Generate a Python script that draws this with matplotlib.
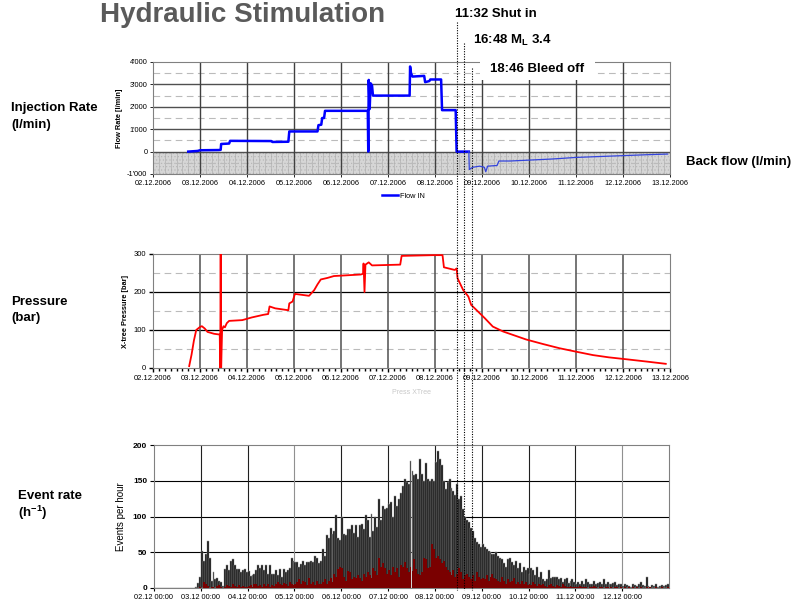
import numpy as np
import matplotlib
matplotlib.use('Agg')
import matplotlib.pyplot as plt
from matplotlib.lines import Line2D
from matplotlib.patches import Rectangle

plt.rcParams['font.family'] = ['Liberation Sans', 'DejaVu Sans']
plt.rcParams['mathtext.fontset'] = 'custom'
plt.rcParams['mathtext.rm'] = 'Liberation Sans'
plt.rcParams['mathtext.bf'] = 'Liberation Sans:bold'
plt.rcParams['hatch.linewidth'] = 0.4

W, H = 792, 605

def fx(x):
    return x / W

def fy(y):
    return 1 - y / H

# ---- data (time in days since 02.12.2006 00:00) ----
day_names = ['02.12', '03.12', '04.12', '05.12', '06.12', '07.12',
             '08.12', '09.12', '10.12', '11.12', '12.12', '13.12']
date_labels = [d + '.2006' for d in day_names]
event_labels = [d + ' 00:00' for d in day_names[:-1]]

flow_t = [0.75, 0.95, 1.00, 1.40, 1.44, 1.45, 1.62, 1.64, 2.52, 2.54, 2.88, 2.90,
          3.50, 3.52, 3.58, 3.60, 3.64, 3.66, 4.57, 4.58, 4.59, 4.61, 4.63, 4.66,
          4.68, 5.46, 5.47, 5.49, 5.52, 5.77, 5.79, 5.88, 5.90, 6.13, 6.15, 6.44,
          6.46, 6.72]
flow_v = [0, 30, 60, 70, 80, 340, 360, 480, 470, 430, 440, 900,
          900, 1180, 1200, 1500, 1500, 1820, 1820, 0, 3200, 1900, 3050, 2950,
          2500, 2500, 3800, 3500, 3350, 3380, 3100, 3150, 3220, 3220, 1850, 1850,
          0, 0]

back_t = [6.72, 6.73, 6.80, 6.95, 7.05, 7.08, 7.12, 7.32, 7.36, 7.6, 8.0, 8.5,
          9.0, 9.5, 10.0, 10.5, 10.95]
back_v = [0, -800, -700, -650, -700, -900, -650, -620, -420, -420, -380, -330,
          -260, -220, -180, -140, -110]

press_t = [0.77, 0.82, 0.87, 0.92, 1.00, 1.04, 1.10, 1.16, 1.30, 1.42, 1.43, 1.44,
           1.45, 1.47, 1.50, 1.53, 1.57, 1.62, 1.90, 2.10, 2.35, 2.45, 2.48, 2.60,
           2.88, 2.90, 2.97, 3.02, 3.20, 3.32, 3.43, 3.50, 3.57, 3.71, 3.85, 4.42,
           4.47, 4.48, 4.50, 4.52, 4.59, 4.66, 5.26, 5.29, 5.97, 6.16, 6.19, 6.42,
           6.46, 6.48, 6.55, 6.60, 6.71, 6.77, 6.92, 7.06, 7.23, 7.45, 7.94, 8.30,
           8.65, 9.00, 9.36, 9.70, 10.07, 10.50, 10.91]
press_v = [5, 35, 72, 100, 108, 110, 104, 95, 90, 88, 0, 300,
           0, 100, 110, 107, 118, 124, 126, 133, 140, 142, 162, 157,
           152, 170, 175, 195, 192, 190, 205, 220, 233, 237, 242, 246,
           248, 275, 200, 272, 278, 270, 272, 295, 297, 297, 265, 258,
           262, 236, 218, 205, 188, 166, 148, 131, 109, 96, 75, 63,
           52, 43, 34, 28, 23, 17, 11]

# hourly event counts, one row per day (02.12 ... 12.12)
events_all = [
    [0] * 21 + [2, 7, 16],
    [52, 38, 48, 66, 42, 10, 23, 12, 14, 10, 9, 3, 27, 32, 25, 38, 40, 32, 27, 27, 22, 25, 26, 22],
    [24, 17, 18, 20, 25, 32, 28, 32, 25, 32, 20, 32, 20, 20, 25, 18, 26, 15, 26, 22, 25, 28, 42, 38],
    [36, 36, 30, 33, 38, 32, 37, 37, 38, 36, 45, 42, 35, 38, 55, 45, 74, 70, 84, 76, 80, 102, 70, 67],
    [100, 75, 74, 82, 83, 88, 77, 88, 72, 88, 90, 82, 102, 95, 72, 103, 80, 100, 85, 124, 95, 115, 110, 112],
    [118, 120, 100, 128, 115, 125, 133, 143, 153, 148, 145, 178, 163, 158, 160, 152, 180, 160, 150, 175, 153, 150, 152, 150],
    [176, 192, 180, 172, 150, 138, 148, 152, 140, 135, 130, 145, 125, 128, 110, 100, 95, 92, 84, 80, 70, 65, 62, 58],
    [62, 58, 55, 52, 50, 48, 47, 50, 45, 42, 40, 35, 30, 40, 42, 36, 32, 38, 28, 35, 22, 30, 25, 28],
    [20, 28, 25, 18, 30, 15, 22, 12, 10, 12, 25, 14, 15, 16, 15, 12, 14, 8, 12, 14, 7, 10, 12, 8],
    [6, 8, 5, 10, 6, 12, 8, 6, 5, 10, 6, 7, 9, 6, 12, 5, 8, 6, 5, 7, 9, 4, 5, 6],
    [3, 5, 4, 3, 2, 6, 4, 3, 5, 8, 4, 3, 15, 3, 2, 4, 3, 5, 2, 3, 4, 3, 4, 6],
]
events_large = [
    [0] * 21 + [0, 0, 2],
    [0, 8, 5, 3, 0, 2, 1, 0, 3, 4, 2, 0, 1, 4, 3, 2, 5, 3, 1, 4, 2, 3, 1, 2],
    [3, 4, 2, 5, 6, 3, 4, 2, 5, 3, 6, 2, 4, 3, 5, 8, 6, 4, 7, 5, 3, 8, 6, 4],
    [6, 8, 12, 5, 10, 8, 4, 14, 6, 8, 4, 10, 6, 5, 8, 12, 6, 10, 14, 8, 20, 15, 26, 30],
    [28, 15, 10, 24, 22, 12, 16, 14, 18, 14, 10, 20, 16, 22, 18, 14, 28, 24, 18, 42, 30, 35, 28, 20],
    [25, 18, 30, 22, 28, 16, 32, 30, 36, 28, 22, 30, 24, 40, 26, 20, 18, 22, 42, 40, 28, 30, 62, 55],
    [42, 45, 40, 35, 38, 30, 25, 22, 18, 25, 15, 20, 28, 22, 12, 18, 20, 15, 12, 18, 10, 22, 16, 12],
    [14, 12, 18, 10, 15, 20, 14, 12, 10, 8, 15, 10, 6, 12, 8, 10, 14, 6, 8, 5, 10, 6, 8, 4],
    [6, 4, 8, 5, 3, 6, 4, 5, 3, 2, 4, 6, 3, 2, 4, 3, 2, 5, 3, 2, 1, 3, 2, 1],
    [2, 1, 3, 1, 2, 1, 0, 2, 1, 3, 1, 0, 2, 1, 0, 1, 2, 0, 1, 0, 1, 2, 0, 1],
    [0, 1, 0, 1, 0, 2, 0, 1, 0, 1, 0, 0, 2, 0, 1, 0, 0, 1, 0, 0, 1, 0, 0, 2],
]

markers = ['11:32 Shut in', '16:48 M$_\\mathbf{L}$ 3.4', '18:46 Bleed off']

fig = plt.figure(figsize=(7.92, 6.05), dpi=100)

frame_col = '#808080'

# ---------------- flow rate ----------------
ax1 = fig.add_axes([fx(153), fy(174), 517 / W, 112 / H])
ax1.set_xlim(0, 11)
ax1.set_ylim(-1000, 4000)
ax1.axhspan(-1000, 0, facecolor='#d6d6d6', edgecolor='#b4b4b4', hatch='.....', lw=0, zorder=0)
ax1.vlines(np.arange(0, 11, 0.125), -1000, 0, color='#a8a8a8', lw=0.4, zorder=0.5)
for y in [0, 1000, 2000, 3000]:
    ax1.axhline(y, color='#505050', lw=1, zorder=1)
for y in [-500, 500, 1500, 2500, 3500]:
    ax1.axhline(y, color='#bbbbbb', lw=0.8, ls=(0, (6, 4)), zorder=1)
for d in range(1, 11):
    ax1.axvline(d, color='#404040', lw=1, zorder=1)
ax1.plot(flow_t, flow_v, color='#0000ff', lw=1.8, label='Flow IN', zorder=3)
ax1.plot(back_t, back_v, color='#3344dd', lw=0.9, zorder=3)
ax1.set_yticks([-1000, 0, 1000, 2000, 3000, 4000])
ax1.set_yticklabels(["-1'000", "0", "1'000", "2'000", "3'000", "4'000"])
ax1.set_xticks(range(12))
ax1.set_xticklabels(date_labels)
ax1.tick_params(labelsize=5.3, length=2, width=0.6, pad=2)
ax1.set_ylabel('Flow Rate [l/min]', fontsize=5.3, fontweight='bold', labelpad=3)
for s in ax1.spines.values():
    s.set_color(frame_col)
ax1.legend(loc='center', bbox_to_anchor=(0.484, -0.196), frameon=False,
           fontsize=5.3, handlelength=2.2, handletextpad=0.3)

# ---------------- pressure ----------------
ax2 = fig.add_axes([fx(153), fy(368), 517 / W, 114 / H])
ax2.set_xlim(0, 11)
ax2.set_ylim(0, 300)
for y in [100, 200]:
    ax2.axhline(y, color='black', lw=0.9, zorder=1)
for y in [50, 150, 250]:
    ax2.axhline(y, color='#bbbbbb', lw=0.8, ls=(0, (6, 4)), zorder=1)
for d in range(1, 11):
    ax2.axvline(d, color='#505050', lw=1.1, zorder=1)
ax2.plot(press_t, press_v, color='#ff0000', lw=1.3, zorder=3)
ax2.set_yticks([0, 100, 200, 300])
ax2.set_xticks(range(12))
ax2.set_xticklabels(date_labels)
ax2.set_xticks(np.arange(0, 11.01, 0.125), minor=True)
ax2.tick_params(labelsize=5.5, length=3, width=1, pad=2)
ax2.tick_params(axis='x', which='minor', length=2.5, width=1)
ax2.set_ylabel('X-tree Pressure [bar]', fontsize=5.3, fontweight='bold', labelpad=3)
ax2.set_xlabel('Press XTree', fontsize=5, color='#c8c8c8', labelpad=5)
for s in ax2.spines.values():
    s.set_color(frame_col)

# ---------------- event rate ----------------
ax3 = fig.add_axes([fx(154), fy(588), 515 / W, 143 / H])
ax3.set_xlim(0, 11)
ax3.set_ylim(0, 200)
for y in [50, 100, 150]:
    ax3.axhline(y, color='black', lw=0.8, zorder=1)
for d in range(1, 11):
    ax3.axvline(d, color='#202020' if d not in (3, 10) else '#909090', lw=0.8, zorder=1)
ev_all = np.concatenate([np.array(r, float) for r in events_all])
ev_big = np.concatenate([np.array(r, float) for r in events_large])
hours = np.arange(len(ev_all)) / 24.0
ax3.bar(hours, ev_all, width=1 / 24, align='edge', color='#0a0a0a',
        edgecolor='#9a9a9a', lw=0.35, zorder=2)
ax3.bar(hours, ev_big, width=1 / 24, align='edge', color='#7a0000', lw=0, zorder=3)
ax3.set_yticks([0, 50, 100, 150, 200])
ax3.set_xticks(range(11))
ax3.set_xticklabels(event_labels)
ax3.tick_params(axis='x', labelsize=5.3, length=2, pad=2)
ax3.tick_params(axis='y', labelsize=6, length=3, pad=2)
for lab in ax3.get_yticklabels():
    lab.set_fontweight('bold')
ax3.set_ylabel('Events per hour', fontsize=7, labelpad=5)
for s in ax3.spines.values():
    s.set_color(frame_col)

# ---------------- figure texts ----------------
# title: the slide crops it at the top, here it is kept just inside the canvas
fig.text(fx(100), fy(22), 'Hydraulic Stimulation', fontsize=20, fontweight='bold',
         color='#5a5a5a', va='baseline', ha='left')

side = dict(fontsize=9.5, fontweight='bold', va='center', ha='left')
fig.text(fx(11), fy(108), 'Injection Rate', **side)
fig.text(fx(11), fy(125), '(l/min)', **side)
fig.text(fx(11), fy(302), 'Pressure', **side)
fig.text(fx(11), fy(318), '(bar)', **side)
fig.text(fx(18), fy(496), 'Event rate', **side)
fig.text(fx(18), fy(513), '(h$^{\\mathbf{-1}}$)', **side)
fig.text(fx(686), fy(162), 'Back flow (l/min)', **side)

# annotation lines
line_x = [457, 464, 472]
line_top = [22, 43, 68]
for x, yt in zip(line_x, line_top):
    fig.add_artist(Line2D([fx(x), fx(x)], [fy(yt), fy(590)], transform=fig.transFigure,
                          color='black', lw=0.8, ls=(0, (1, 1.3)), zorder=5))

fig.add_artist(Rectangle((fx(480), fy(80)), 115 / W, 25 / H, transform=fig.transFigure,
                         facecolor='white', edgecolor='none', zorder=6))
fig.text(fx(455), fy(14), markers[0], zorder=7, **side)
fig.text(fx(473), fy(40), markers[1], zorder=7, **side)
fig.text(fx(490), fy(69), markers[2], zorder=7, **side)

fig.savefig('out.png', dpi=100)
